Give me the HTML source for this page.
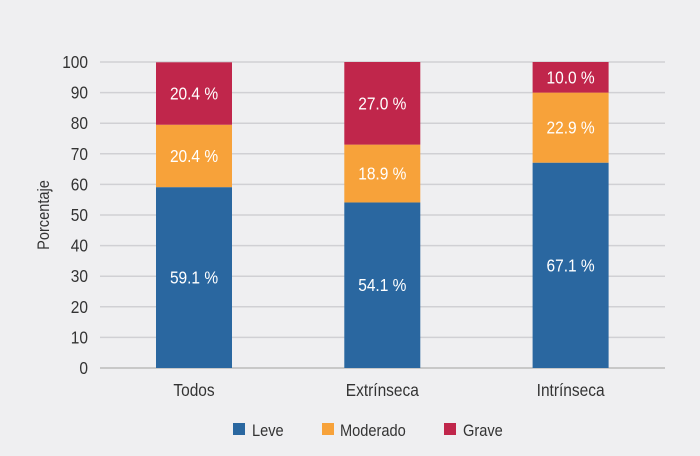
<!DOCTYPE html>
<html><head><meta charset="utf-8"><style>
body{margin:0;background:#efeff1;}
svg{display:block;font-family:"Liberation Sans",sans-serif;}
</style></head><body>
<svg width="700" height="456">
<rect width="700" height="456" fill="#efeff1"/>
<g id="grid"></g><g id="bars"></g><g id="axis"></g>
<text transform="translate(49,215) rotate(-90) scale(0.86,1)" text-anchor="middle" font-size="17" fill="#333">Porcentaje</text>
<g font-size="17" fill="#333">
<g><rect x="233" y="423" width="12" height="12" fill="#2a67a0"/><text x="252" y="436">Leve</text></g>
<g><rect x="322" y="423" width="12" height="12" fill="#f7a23a"/><text x="340" y="436">Moderado</text></g>
<g><rect x="444" y="423" width="12" height="12" fill="#c0264b"/><text x="463" y="436">Grave</text></g>
</g>
</svg>
<script>
const categories=["Todos","Extrínseca","Intrínseca"];
const leve=[59.1,54.1,67.1];
const moderado=[20.4,18.9,22.9];
const grave=[20.4,27.0,10.0];
const ticks=[0,10,20,30,40,50,60,70,80,90,100];
const NS="http://www.w3.org/2000/svg";
const y=v=>368-v*3.06;
const xc=i=>194+i*188.3;
function mk(tag,attrs,parent){const e=document.createElementNS(NS,tag);for(const k in attrs)e.setAttribute(k,attrs[k]);parent.appendChild(e);return e;}
const grid=document.getElementById('grid'),axis=document.getElementById('axis'),bars=document.getElementById('bars');
ticks.forEach(t=>{
 const l=mk('line',{x1:100,x2:665,y1:y(t),y2:y(t),stroke:t===0?'#bbb':'#d0d0d4','stroke-width':1.5},grid);
 
 
 const tx=mk('text',{x:88,y:y(t)+6,'text-anchor':'end','font-size':18,fill:'#333'},axis);
 tx.textContent=t;
 
 
});
const series=[["leve",leve,"#2a67a0"],["moderado",moderado,"#f7a23a"],["grave",grave,"#c0264b"]];
categories.forEach((c,i)=>{
 let base=0;
 series.forEach(([n,vals,col])=>{
  const v=vals[i];
  const r=mk('rect',{x:xc(i)-38,width:76,y:y(base+v),height:v*3.06,fill:col},bars);
  
  
  const t=mk('text',{x:xc(i),y:y(base+v/2)+6,'text-anchor':'middle','font-size':18,fill:'#fff'},bars);
  t.textContent=v.toFixed(1)+' %';
  
  
  base+=v;
 });
 const ct=mk('text',{x:xc(i),y:396,'text-anchor':'middle','font-size':18,fill:'#333'},axis);
 ct.textContent=c;
 
 
});
document.querySelectorAll('text').forEach(t=>{
 if(t.hasAttribute('transform'))return;
 const x=t.getAttribute('x'),yy=t.getAttribute('y');
 t.setAttribute('x',0);t.setAttribute('y',0);
 t.setAttribute('transform','translate('+x+','+yy+') scale(0.86,1)');
});
</script>
</body></html>
